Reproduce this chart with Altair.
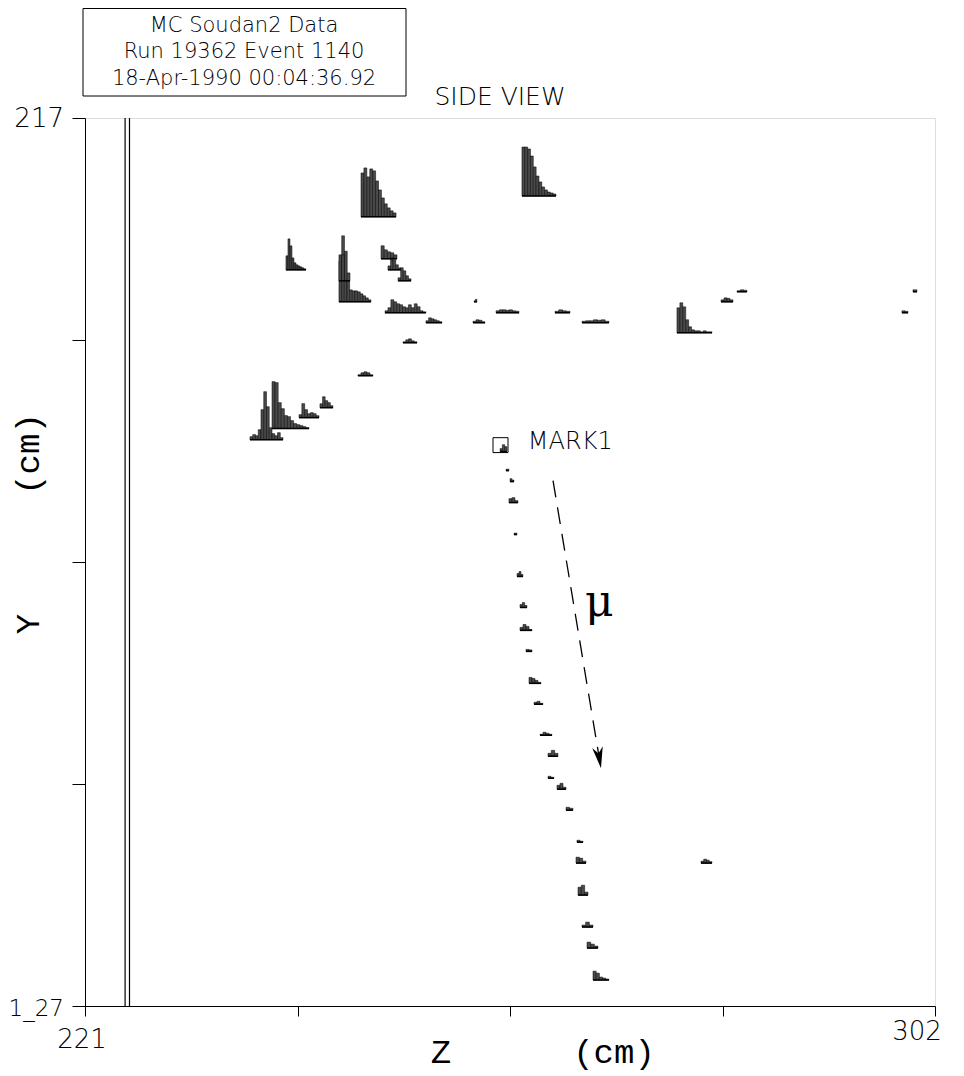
import altair as alt
import pandas as pd

# ---------------- data (cm) ----------------
# each hit: left z, right z, baseline y, list of pulse-height bars (cm)
hit_z_left = [247.30, 262.64, 240.15, 245.20, 245.20, 249.21, 249.87, 250.83, 249.59, 253.49,
              251.30, 247.01, 243.39, 241.39, 238.82, 236.72,
              258.07, 260.17, 257.97, 265.79, 268.36, 277.41, 281.61, 283.13, 298.85, 299.90, 279.70,
              260.55, 261.12, 261.50, 261.40, 261.88, 262.17, 262.45, 262.45, 263.02, 263.31, 263.79,
              264.36, 265.12, 265.12, 265.98, 266.84, 267.88, 267.79, 267.98, 268.36, 268.84, 269.41]
hit_z_right = [250.64, 265.88, 242.06, 246.25, 248.25, 250.73, 251.11, 252.07, 253.49, 255.02,
               252.64, 248.44, 244.63, 243.30, 242.35, 239.87,
               258.35, 262.36, 259.12, 267.22, 270.93, 280.75, 282.75, 284.08, 299.43, 300.28, 280.75,
               261.21, 261.40, 261.88, 262.26, 262.17, 262.74, 263.12, 263.60, 263.60, 264.45, 264.64,
               265.50, 266.07, 265.69, 266.84, 267.50, 268.46, 268.74, 268.93, 269.41, 269.88, 270.93]
hit_y = [206.98, 209.10, 201.61, 200.50, 198.37, 202.73, 201.61, 200.50, 197.26, 196.25,
         194.22, 190.88, 187.64, 186.63, 185.52, 184.40,
         198.37, 197.26, 196.25, 197.26, 196.25, 195.23, 198.37, 199.39, 197.26, 199.39, 141.48,
         183.19, 181.26, 180.15, 178.02, 174.78, 170.53, 167.39, 165.07, 162.94, 159.70, 157.58,
         154.44, 152.31, 150.08, 148.97, 146.84, 143.60, 141.48, 138.24, 135.00, 132.87, 129.63]
hit_heights = [
    [4.45, 4.96, 4.05, 4.86, 4.66, 3.64, 2.73, 1.92, 1.32, 0.91, 0.61, 0.40],
    [4.96, 4.96, 4.76, 4.05, 2.94, 2.02, 1.42, 0.91, 0.61, 0.40, 0.30, 0.20],
    [1.42, 3.14, 2.43, 1.21, 0.71, 0.51, 0.40, 0.30, 0.20, 0.10],
    [2.00, 4.56, 3.00, 0.80],
    [4.76, 4.76, 2.13, 2.13, 1.21, 1.11, 1.11, 1.01, 0.81, 0.61, 0.40, 0.20],
    [1.32, 0.91, 0.71, 0.61, 0.40],
    [0.40, 1.21, 1.01, 0.51, 0.20],
    [0.30, 1.32, 1.01, 0.51, 0.20],
    [0.20, 0.51, 1.32, 1.11, 0.91, 0.81, 0.61, 0.51, 0.81, 0.51, 0.91, 0.61, 0.20, 0.10],
    [0.20, 0.50, 0.40, 0.30, 0.20, 0.10],
    [0.10, 0.30, 0.40, 0.20, 0.10],
    [0.10, 0.30, 0.40, 0.30, 0.10],
    [0.40, 1.11, 0.71, 0.51, 0.20],
    [0.30, 1.42, 0.81, 0.40, 0.51, 0.40, 0.20],
    [4.76, 4.66, 2.63, 2.02, 1.32, 1.21, 0.81, 0.51, 0.40, 0.30, 0.20, 0.10],
    [0.30, 0.51, 0.40, 1.01, 3.04, 4.86, 3.34, 1.21, 0.61, 0.40, 0.71, 0.20],
    [0.10, 0.25],
    [0.20, 0.30, 0.30, 0.25, 0.30, 0.20, 0.15],
    [0.15, 0.30, 0.25, 0.10],
    [0.15, 0.30, 0.20, 0.15],
    [0.15, 0.20, 0.20, 0.30, 0.25, 0.30, 0.15],
    [2.53, 3.04, 2.63, 1.32, 0.61, 0.30, 0.20, 0.20, 0.10, 0.20, 0.10, 0.10],
    [0.20, 0.40, 0.35, 0.20],
    [0.10, 0.20, 0.15],
    [0.20, 0.15],
    [0.20],
    [0.20, 0.40, 0.30, 0.15],
    [0.30, 0.70, 0.50],
    [0.15],
    [0.30, 0.15],
    [0.40, 0.50, 0.20],
    [0.15],
    [0.30, 0.50, 0.20],
    [0.30, 0.50, 0.20],
    [0.30, 0.60, 0.40, 0.10],
    [0.20, 0.15],
    [0.60, 0.50, 0.30, 0.10],
    [0.20, 0.30, 0.10],
    [0.10, 0.30, 0.20, 0.10],
    [0.30, 0.60, 0.30],
    [0.20, 0.10],
    [0.40, 0.60, 0.20],
    [0.30, 0.20],
    [0.20, 0.10],
    [0.60, 0.50, 0.20],
    [0.80, 1.00, 0.30],
    [0.20, 0.50, 0.20],
    [0.60, 0.40, 0.20],
    [0.90, 0.70, 0.30, 0.20, 0.10],
]

detector_edges = [224.82, 225.24]          # double vertical line (z)
mark_box_z = [259.88, 261.31]
mark_box_y = [183.09, 184.60]
mark_label = "MARK1"
mark_label_pos = [263.2, 184.2]
arrow_z = [265.60, 270.17]
arrow_y = [180.25, 151.10]
mu_pos = [270.0, 167.8]

z_domain = [221, 302]
y_domain = [127, 217]
z_ticks = [221, 241.25, 261.5, 281.75, 302]
y_ticks = [127, 149.5, 172, 194.5, 217]
z_tick_labels = ["221", "302"]
y_tick_labels = ["217", "1_27"]
title_lines = ["MC Soudan2 Data", "Run 19362 Event 1140", "18-Apr-1990 00:04:36.92"]

# ---------------- tables ----------------
bars = []
bases = []
for zl, zr, yb, hs in zip(hit_z_left, hit_z_right, hit_y, hit_heights):
    n = len(hs)
    w = (zr - zl) / n
    for k, h in enumerate(hs):
        bars.append({"z": zl + k * w, "z2": zl + (k + 1) * w, "y": yb, "y2": yb + h})
    bases.append({"z": zl, "z2": zr, "y": yb})
bars_df = pd.DataFrame(bars)
bases_df = pd.DataFrame(bases)

W, H = 850, 888
xs = alt.Scale(domain=z_domain, nice=False, zero=False)
ys = alt.Scale(domain=y_domain, nice=False, zero=False)

SANS = "DejaVu Sans"

x_axis = alt.Axis(values=z_ticks, title=None, grid=False, tickSize=10, domain=True,
                  labels=False, tickColor="black", domainColor="black")
y_axis = alt.Axis(values=y_ticks, title=None, grid=False, tickSize=13, domain=True,
                  labels=False, tickColor="black", domainColor="black")

bar_layer = alt.Chart(bars_df).mark_rect(fill="#4a4a4a", stroke="black", strokeWidth=0.5).encode(
    x=alt.X("z:Q", scale=xs, axis=x_axis), x2="z2:Q",
    y=alt.Y("y:Q", scale=ys, axis=y_axis), y2="y2:Q")

base_layer = alt.Chart(bases_df).mark_rule(color="black", strokeWidth=1.5).encode(
    x=alt.X("z:Q", scale=xs), x2="z2:Q", y=alt.Y("y:Q", scale=ys))

edge_layer = alt.Chart(pd.DataFrame({"z": detector_edges})).mark_rule(
    color="black", strokeWidth=1.2).encode(
    x=alt.X("z:Q", scale=xs), y=alt.value(0), y2=alt.value(H))

box_layer = alt.Chart(pd.DataFrame({"z": [mark_box_z[0]], "z2": [mark_box_z[1]],
                                    "y": [mark_box_y[0]], "y2": [mark_box_y[1]]})).mark_rect(
    fill=None, fillOpacity=0, stroke="black", strokeWidth=1).encode(
    x=alt.X("z:Q", scale=xs), x2="z2:Q", y=alt.Y("y:Q", scale=ys), y2="y2:Q")

mark_text = alt.Chart(pd.DataFrame({"z": [mark_label_pos[0]], "y": [mark_label_pos[1]],
                                    "t": [mark_label]})).mark_text(
    align="left", baseline="middle", font=SANS, fontWeight=200, fontSize=24, color="black").encode(
    x=alt.X("z:Q", scale=xs), y=alt.Y("y:Q", scale=ys), text="t:N")

arrow_line = alt.Chart(pd.DataFrame({"z": [arrow_z[0]], "z2": [arrow_z[1]],
                                     "y": [arrow_y[0]], "y2": [arrow_y[1]]})).mark_rule(
    color="black", strokeWidth=1.3, strokeDash=[17, 10]).encode(
    x=alt.X("z:Q", scale=xs), x2="z2:Q", y=alt.Y("y:Q", scale=ys), y2="y2:Q")

arrow_head = alt.Chart(pd.DataFrame({"z": [arrow_z[1]], "y": [arrow_y[1]]})).mark_point(
    shape="M0,0 L-0.5,-2 L0,-1.4 L0.5,-2 Z", filled=True, color="black", opacity=1,
    size=460, angle=350.5).encode(x=alt.X("z:Q", scale=xs), y=alt.Y("y:Q", scale=ys))

mu_layer = alt.Chart(pd.DataFrame({"z": [mu_pos[0]], "y": [mu_pos[1]], "t": ["\u03bc"]})).mark_text(
    align="center", baseline="middle", font="DejaVu Serif", fontSize=44, color="black").encode(
    x=alt.X("z:Q", scale=xs), y=alt.Y("y:Q", scale=ys), text="t:N")

# ---------------- annotations in pixel space ----------------
zl_df = pd.DataFrame({"t": z_tick_labels, "px": [-3, 832], "py": [922, 914]})
z_labels = alt.Chart(zl_df).mark_text(
    align="center", baseline="middle", font=SANS, fontWeight=200, fontSize=26,
    color="black").encode(
    x=alt.X("px:Q", scale=None), y=alt.Y("py:Q", scale=None), text="t:N")

yl_df = pd.DataFrame({"t": y_tick_labels, "py": [1, 891], "fs": [26, 23]})
y_labels = alt.Chart(yl_df).mark_text(
    align="right", baseline="middle", font=SANS, fontWeight=200, color="black").encode(
    x=alt.value(-21), y=alt.Y("py:Q", scale=None), text="t:N",
    size=alt.Size("fs:Q", scale=None, legend=None))

box_frame = alt.Chart(pd.DataFrame({"a": [0]})).mark_rect(
    fill=None, fillOpacity=0, stroke="black", strokeWidth=1).encode(
    x=alt.value(-2), x2=alt.value(321), y=alt.value(-109.5), y2=alt.value(-22))

title_df = pd.DataFrame({"t": title_lines, "py": [-92, -66, -39]})
title_text = alt.Chart(title_df).mark_text(
    align="center", baseline="middle", font=SANS, fontWeight=200, fontSize=21, color="black").encode(
    x=alt.value(159), y=alt.Y("py:Q", scale=None), text="t:N")

side_view = alt.Chart(pd.DataFrame({"t": ["SIDE VIEW"]})).mark_text(
    align="center", baseline="middle", font=SANS, fontWeight=200, fontSize=25, color="black").encode(
    x=alt.value(415), y=alt.value(-21), text="t:N")

xt_df = pd.DataFrame({"t": ["Z", "(cm)"], "px": [356, 529]})
x_title = alt.Chart(xt_df).mark_text(
    align="center", baseline="alphabetic", font="Liberation Mono", fontSize=34, color="black").encode(
    x=alt.X("px:Q", scale=None), y=alt.value(945), text="t:N")

yt_df = pd.DataFrame({"t": ["Y", "(cm)"], "py": [506, 336]})
y_title = alt.Chart(yt_df).mark_text(
    align="center", baseline="middle", angle=270, font="Liberation Mono", fontSize=34,
    color="black").encode(
    x=alt.value(-56), y=alt.Y("py:Q", scale=None), text="t:N")

chart = alt.layer(
    edge_layer, bar_layer, base_layer, box_layer, mark_text, arrow_line, arrow_head, mu_layer,
    z_labels, y_labels, box_frame, title_text, side_view, x_title, y_title
).properties(
    width=W, height=H,
    autosize=alt.AutoSizeParams(type="none"),
    padding={"left": 77, "top": 110, "right": 21, "bottom": 68},
).configure_view(stroke="black", strokeWidth=1).configure(background="white")

chart.save("out.html", embed_options={"renderer": "svg", "actions": False})
